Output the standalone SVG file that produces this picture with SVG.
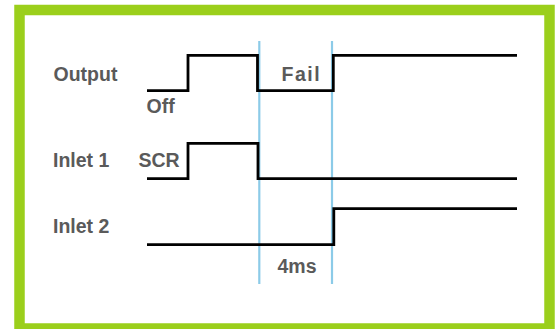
<svg xmlns="http://www.w3.org/2000/svg" width="559" height="329" viewBox="0 0 559 329">
  <style>
    .lbl { font-family: "Liberation Sans", Arial, sans-serif; font-weight: bold; font-size: 19.5px; fill: #5a5a5a; }
    .sig { fill: none; stroke: #000; stroke-width: 2.8; stroke-linejoin: miter; stroke-linecap: butt; }
    .mark { stroke: #8ccbe8; stroke-width: 2.2; }
  </style>
  <rect x="0" y="0" width="559" height="329" fill="#fff"/>
  <rect id="frame" x="19.5" y="10" width="530" height="318.5" fill="#fff" stroke="#9bcf1b" stroke-width="10.5"/>
  <g id="markers">
    <line class="mark" x1="259.3" y1="41" x2="259.3" y2="284"/>
    <line class="mark" x1="332" y1="41" x2="332" y2="284"/>
  </g>
  <g id="connectors">
    <polyline id="output-signal" class="sig" points="147,90.7 188,90.7 188,55.3 257.5,55.3 257.5,90.7 333.3,90.7 333.3,55.3 517,55.3"/>
    <polyline id="inlet1-signal" class="sig" points="147,178.7 188,178.7 188,143.3 258,143.3 258,178.7 517,178.7"/>
    <polyline id="inlet2-signal" class="sig" points="147,244.7 333.8,244.7 333.8,208.7 517,208.7"/>
  </g>
  <g id="label-output"><text class="lbl" x="53.5" y="81">Output</text></g>
  <g id="label-off"><text class="lbl" x="146.5" y="113">Off</text></g>
  <g id="label-inlet1"><text class="lbl" x="53" y="167">Inlet 1</text></g>
  <g id="label-scr"><text class="lbl" x="138.5" y="167">SCR</text></g>
  <g id="label-inlet2"><text class="lbl" x="53" y="233">Inlet 2</text></g>
  <g id="label-fail"><text class="lbl" x="281.5" y="81" letter-spacing="1.5">Fail</text></g>
  <g id="label-4ms"><text class="lbl" x="277.5" y="273">4ms</text></g>
</svg>
